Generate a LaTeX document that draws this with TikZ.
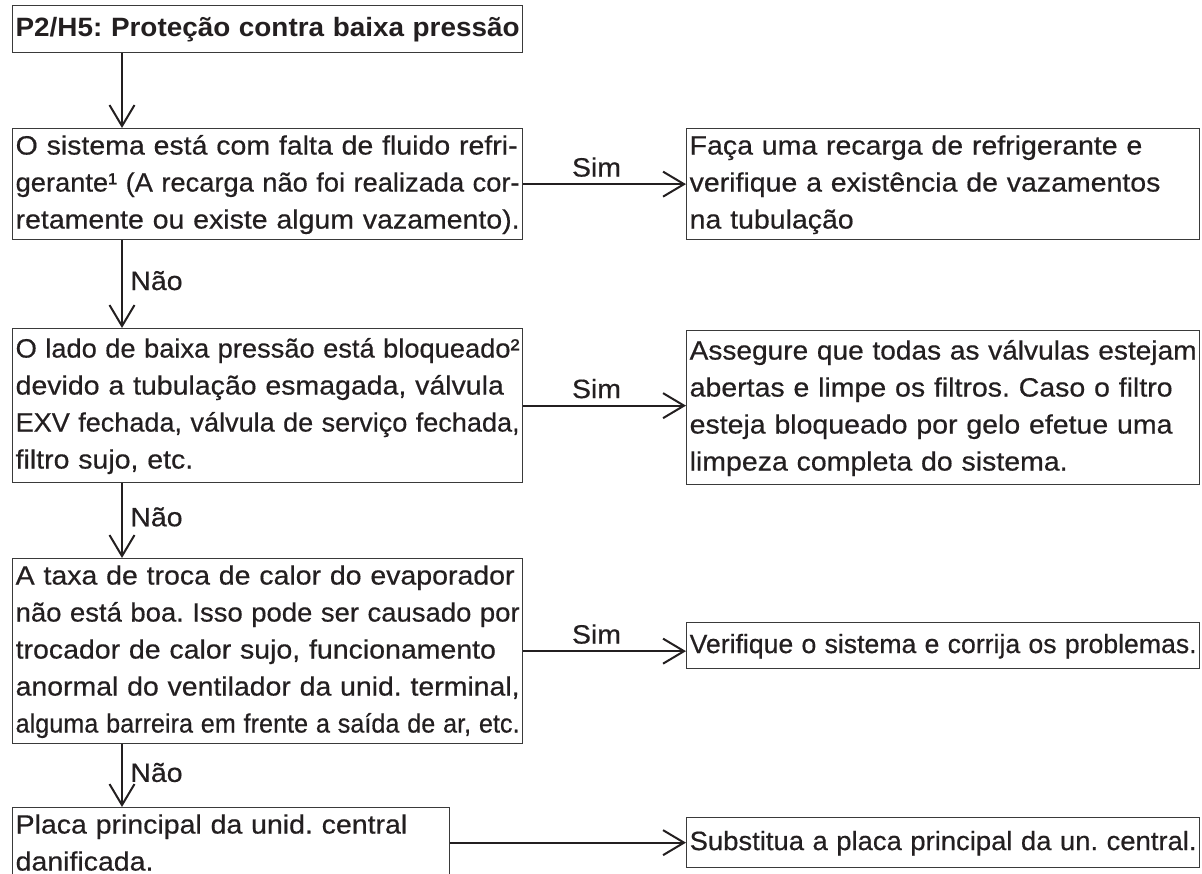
\documentclass[tikz,border=0pt]{standalone}
\usepackage{fontspec}
\setmainfont{Liberation Sans}[FakeStretch=1.075, UprightFeatures={FakeBold=0.5}]
\usetikzlibrary{arrows.meta}
\definecolor{ink}{HTML}{231F20}
\definecolor{edge}{HTML}{3A3A3A}
\newsavebox\fitbox
\newcommand\fl[1]{\strut\sbox\fitbox{#1}\ifdim\wd\fitbox>\hsize\resizebox{\hsize}{\height}{\usebox\fitbox}\else\usebox\fitbox\fi}
\frenchspacing
\begin{document}
\begin{tikzpicture}[x=1pt,y=-1pt,
  box/.style={draw=edge, line width=1.3pt, text=ink, anchor=north west, align=left,
    inner xsep=3pt, inner ysep=0pt, font=\fontsize{26.5}{37}\selectfont},
  arr/.style={draw=ink, line width=2pt, -{Straight Barb[length=21pt,width=25pt]}},
  lbl/.style={text=ink, font=\fontsize{26.5}{37}\selectfont}]
\useasboundingbox (0,0) rectangle (1202,874);
\coordinate (spine) at (122,0);

\node[box, font=\fontsize{26.5}{37}\selectfont\bfseries, align=center, text width=504pt, minimum height=47pt] (title) at (12,5)
  {\fl{P2/H5: Proteção contra baixa pressão}};

\node[box, text width=504pt, minimum height=110pt] (b1) at (12,128)
  {\fl{O sistema está com falta de fluido refri-}\\
   \fl{gerante¹ (A recarga não foi realizada cor-}\\
   \fl{retamente ou existe algum vazamento).}};

\node[box, text width=507pt, minimum height=109pt] (a1) at (686,128)
  {\fl{Faça uma recarga de refrigerante e}\\
   \fl{verifique a existência de vazamentos}\\
   \fl{na tubulação}};

\node[box, text width=504pt, minimum height=154pt] (b2) at (12,328)
  {\fl{O lado de baixa pressão está bloqueado²}\\
   \fl{devido a tubulação esmagada, válvula}\\
   \fl{EXV fechada, válvula de serviço fechada,}\\
   \fl{filtro sujo, etc.}};

\node[box, text width=507pt, minimum height=154pt] (a2) at (686,330)
  {\fl{Assegure que todas as válvulas estejam}\\
   \fl{abertas e limpe os filtros. Caso o filtro}\\
   \fl{esteja bloqueado por gelo efetue uma}\\
   \fl{limpeza completa do sistema.}};

\node[box, text width=504pt, minimum height=178pt] (b3) at (12,558)
  {\fl{A taxa de troca de calor do evaporador}\\
   \fl{não está boa. Isso pode ser causado por}\\
   \fl{trocador de calor sujo, funcionamento}\\
   \fl{anormal do ventilador da unid. terminal,}\\
   \fl{alguma barreira em frente a saída de ar, etc.}};

\node[box, text width=507pt, minimum height=46pt] (a3) at (686,622)
  {\fl{Verifique o sistema e corrija os problemas.}};

\node[box, text width=431pt, minimum height=70pt] (b4) at (12,807)
  {\fl{Placa principal da unid. central}\\
   \fl{danificada.}};

\node[box, text width=507pt, minimum height=50pt] (a4) at (686,817)
  {\fl{Substitua a placa principal da un. central.}};

% vertical connectors
\draw[arr] (title.south -| spine) -- (b1.north -| spine);
\draw[arr] (b1.south -| spine) -- node[lbl, right, xshift=4pt, pos=0.46] {Não} (b2.north -| spine);
\draw[arr] (b2.south -| spine) -- node[lbl, right, xshift=4pt, pos=0.45] {Não} (b3.north -| spine);
\draw[arr] (b3.south -| spine) -- node[lbl, right, xshift=4pt, pos=0.45] {Não} (b4.north -| spine);

% horizontal connectors
\draw[arr] (b1.east) -- node[lbl, above=3pt, pos=0.45] {Sim} (b1.east -| a1.west);
\draw[arr] (b2.east) -- node[lbl, above=3pt, pos=0.45] {Sim} (b2.east -| a2.west);
\draw[arr] (b3.east) -- node[lbl, above=3pt, pos=0.45] {Sim} (b3.east -| a3.west);
\draw[arr] (b4.east |- a4.west) -- (a4.west);
\end{tikzpicture}
\end{document}
